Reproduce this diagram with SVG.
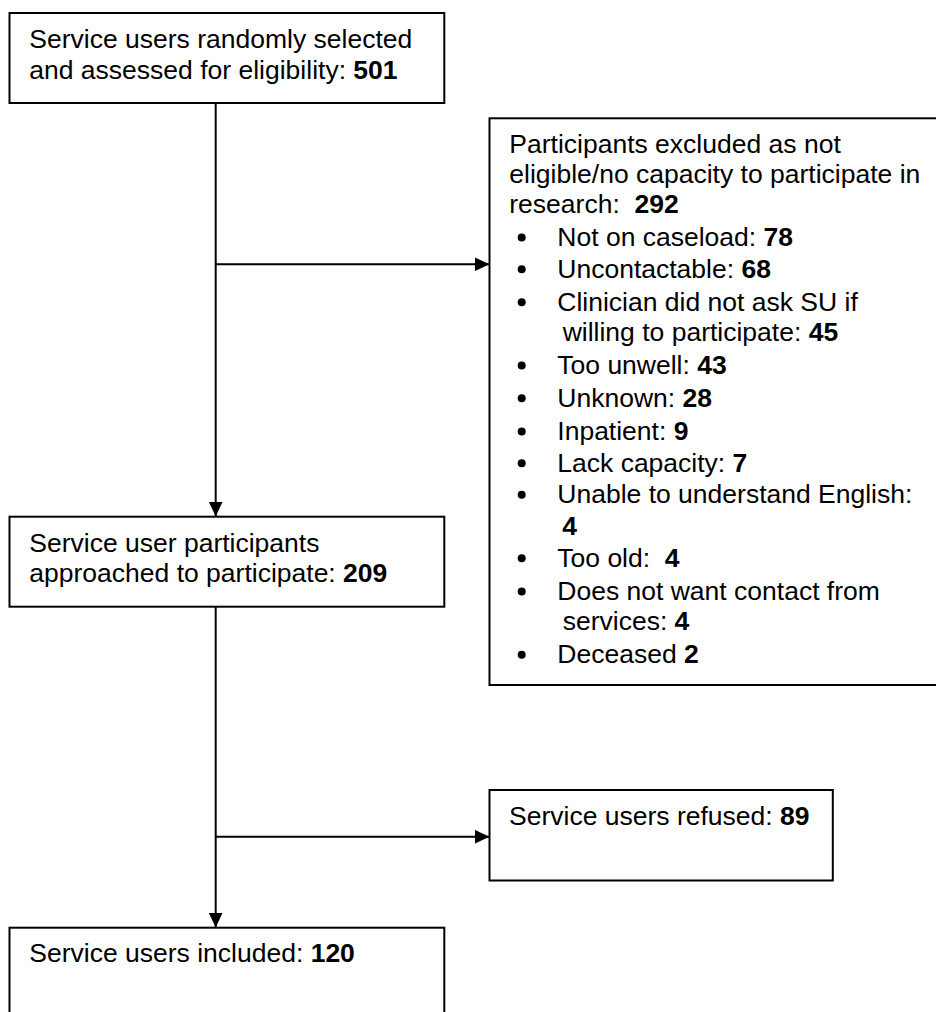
<svg xmlns="http://www.w3.org/2000/svg" width="936" height="1012" viewBox="0 0 936 1012">
<style>
.box{fill:#fff;stroke:#000;stroke-width:2}
.t{font-family:"Liberation Sans",Arial,sans-serif;font-size:26.5px;fill:#000;white-space:pre}
.b{font-weight:bold}
.c{stroke:#000;stroke-width:2;fill:none}
.dot{fill:#000}
</style>
<defs>
<marker id="ah" markerUnits="userSpaceOnUse" markerWidth="16" markerHeight="14" refX="15" refY="7" orient="auto">
<path d="M0,0 L15,7 L0,14 z" fill="#000"/>
</marker>
</defs>
<rect width="936" height="1012" fill="#fff"/>
<g id="connectors">
<path class="c" d="M215.7,103 L215.7,516.5" marker-end="url(#ah)"/>
<path class="c" d="M215.7,264.3 L489.5,264.3" marker-end="url(#ah)"/>
<path class="c" d="M215.7,606.7 L215.7,927.5" marker-end="url(#ah)"/>
<path class="c" d="M215.7,836.7 L489.5,836.7" marker-end="url(#ah)"/>
</g>
<g id="node-assessed">
<rect class="box" x="9.5" y="13" width="434.8" height="90"/>
<text class="t" x="29.3" y="47.5">Service users randomly selected</text>
<text class="t" x="29.3" y="79">and assessed for eligibility: <tspan class="b">501</tspan></text>
</g>
<g id="node-excluded">
<rect class="box" x="489.5" y="118.3" width="460" height="566.7"/>
<text class="t" x="509.3" y="153.3">Participants excluded as not</text>
<text class="t" x="509.3" y="183.3">eligible/no capacity to participate in</text>
<text class="t" x="509.3" y="213.3">research:  <tspan class="b">292</tspan></text>
<circle class="dot" cx="521.7" cy="237.5" r="4"/>
<text class="t" x="557.3" y="246">Not on caseload: <tspan class="b">78</tspan></text>
<circle class="dot" cx="521.7" cy="269.2" r="4"/>
<text class="t" x="557.3" y="277.7">Uncontactable: <tspan class="b">68</tspan></text>
<circle class="dot" cx="521.7" cy="302.2" r="4"/>
<text class="t" x="557.3" y="310.7">Clinician did not ask SU if</text>
<text class="t" x="562.7" y="340.7">willing to participate: <tspan class="b">45</tspan></text>
<circle class="dot" cx="521.7" cy="365.5" r="4"/>
<text class="t" x="557.3" y="374">Too unwell: <tspan class="b">43</tspan></text>
<circle class="dot" cx="521.7" cy="398.2" r="4"/>
<text class="t" x="557.3" y="406.7">Unknown: <tspan class="b">28</tspan></text>
<circle class="dot" cx="521.7" cy="431.5" r="4"/>
<text class="t" x="557.3" y="440">Inpatient: <tspan class="b">9</tspan></text>
<circle class="dot" cx="521.7" cy="463.2" r="4"/>
<text class="t" x="557.3" y="471.7">Lack capacity: <tspan class="b">7</tspan></text>
<circle class="dot" cx="521.7" cy="494.8" r="4"/>
<text class="t" x="557.3" y="503.3">Unable to understand English:</text>
<text class="t b" x="562.3" y="535">4</text>
<circle class="dot" cx="521.7" cy="558.2" r="4"/>
<text class="t" x="557.3" y="566.7">Too old:  <tspan class="b">4</tspan></text>
<circle class="dot" cx="521.7" cy="591.5" r="4"/>
<text class="t" x="557.3" y="600">Does not want contact from</text>
<text class="t" x="562.7" y="630">services: <tspan class="b">4</tspan></text>
<circle class="dot" cx="521.7" cy="654.8" r="4"/>
<text class="t" x="557.3" y="663.3">Deceased <tspan class="b">2</tspan></text>
</g>
<g id="node-approached">
<rect class="box" x="9.5" y="516.7" width="434.8" height="90"/>
<text class="t" x="29.3" y="551.7">Service user participants</text>
<text class="t" x="29.3" y="582">approached to participate: <tspan class="b">209</tspan></text>
</g>
<g id="node-refused">
<rect class="box" x="489.5" y="790" width="343.3" height="90.5"/>
<text class="t" x="509" y="825">Service users refused: <tspan class="b">89</tspan></text>
</g>
<g id="node-included">
<rect class="box" x="9.5" y="927.7" width="434.8" height="100"/>
<text class="t" x="29.3" y="961.7">Service users included: <tspan class="b">120</tspan></text>
</g>
</svg>
